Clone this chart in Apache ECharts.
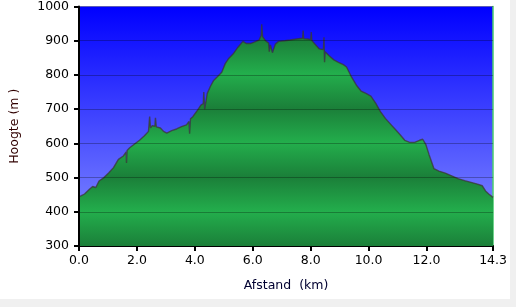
<!DOCTYPE html>
<html><head><meta charset="utf-8">
<script src="https://cdn.jsdelivr.net/npm/echarts@6/dist/echarts.min.js"></script>
<style>html,body{margin:0;padding:0;background:#f0f0f0;}#c{width:510px;height:299px;background:#fff;}</style>
</head><body><div id="c"></div>
<script>
var distanceKm = [0, 0.08, 0.19, 0.36, 0.47, 0.58, 0.69, 0.86, 1.03, 1.19, 1.36, 1.53, 1.63, 1.64, 1.66, 1.75, 1.92, 2.09, 2.26, 2.40, 2.44, 2.47, 2.53, 2.62, 2.64, 2.67, 2.81, 2.92, 3.03, 3.20, 3.37, 3.54, 3.71, 3.80, 3.82, 3.85, 3.93, 4.10, 4.21, 4.29, 4.31, 4.34, 4.43, 4.54, 4.65, 4.77, 4.93, 5.05, 5.16, 5.32, 5.49, 5.66, 5.77, 5.94, 6.11, 6.22, 6.29, 6.31, 6.34, 6.44, 6.55, 6.57, 6.61, 6.66, 6.68, 6.78, 6.89, 7.11, 7.29, 7.51, 7.72, 7.74, 7.76, 7.90, 8.00, 8.02, 8.04, 8.13, 8.30, 8.44, 8.46, 8.48, 8.50, 8.63, 8.80, 8.96, 9.13, 9.24, 9.41, 9.58, 9.74, 9.91, 10.08, 10.25, 10.41, 10.58, 10.75, 10.92, 11.09, 11.25, 11.42, 11.59, 11.76, 11.87, 11.98, 12.09, 12.26, 12.43, 12.65, 12.87, 13.09, 13.32, 13.54, 13.76, 13.93, 14.04, 14.15, 14.30];
var elevationM = [444, 447, 452, 466, 474, 471, 490, 500, 514, 529, 553, 563, 575, 543, 579, 587, 598, 609, 622, 635, 678, 645, 652, 650, 675, 648, 645, 635, 630, 637, 642, 649, 654, 664, 628, 672, 678, 698, 712, 716, 750, 700, 746, 767, 784, 794, 808, 833, 847, 861, 881, 898, 892, 892, 898, 902, 915, 948, 912, 900, 893, 868, 888, 884, 865, 890, 898, 900, 902, 905, 907, 930, 906, 905, 903, 925, 901, 892, 876, 874, 910, 837, 868, 857, 844, 837, 830, 823, 794, 770, 753, 746, 738, 717, 693, 673, 657, 641, 625, 609, 603, 603, 609, 612, 596, 567, 526, 519, 513, 505, 497, 491, 486, 481, 476, 461, 452, 442];
var yTicks = [300, 400, 500, 600, 700, 800, 900, 1000];
var xTickLabels = ['0.0', '2.0', '4.0', '6.0', '8.0', '10.0', '12.0', '14.3'];

var points = distanceKm.map(function (d, i) { return [d, elevationM[i]]; });
var chart = echarts.init(document.getElementById('c'), null, {renderer: 'canvas'});
var light = '#23ae4c', dark = '#1b7f39';
var bandStops = [];
for (var k = 0; k < yTicks.length; k++) {
  bandStops.push({offset: k / (yTicks.length - 1), color: (k % 2 === 0) ? light : dark});
}
var font = {fontFamily: 'DejaVu Sans', fontSize: 12.5, color: '#000'};
chart.setOption({
  animation: false,
  grid: {
    left: 79, right: 4, top: 5, bottom: 53, show: true, borderWidth: 0,
    backgroundColor: new echarts.graphic.LinearGradient(0, 0, 0, 1, [
      {offset: 0, color: '#0000ff'}, {offset: 1, color: '#8a94ff'}])
  },
  xAxis: {
    type: 'value', min: 0, max: 14.3, interval: 2,
    name: 'Afstand  (km)', nameLocation: 'middle', nameGap: 33,
    nameTextStyle: Object.assign({}, font, {color: '#000030'}),
    axisLine: {lineStyle: {color: '#000', width: 2}},
    axisTick: {lineStyle: {color: '#000', width: 2}, length: 5},
    axisLabel: Object.assign({}, font, {margin: 8, showMaxLabel: true,
      formatter: function (v) { return v.toFixed(1); }}),
    splitLine: {show: false}
  },
  yAxis: [{
    type: 'value', min: yTicks[0], max: yTicks[yTicks.length - 1], interval: 100,
    name: 'Hoogte (m )', nameLocation: 'middle', nameGap: 58, nameRotate: 90,
    nameTextStyle: Object.assign({}, font, {color: '#300000'}),
    z: 5,
    axisLine: {show: true, lineStyle: {color: '#000', width: 2}},
    axisTick: {show: true, lineStyle: {color: '#000', width: 2}, length: 5},
    axisLabel: Object.assign({}, font, {margin: 10, formatter: function (v) { return String(v); }}),
    splitLine: {show: true, lineStyle: {color: 'rgba(0,0,0,0.28)', width: 1}}
  }, {
    type: 'value', min: yTicks[0], max: yTicks[yTicks.length - 1], position: 'right',
    axisLine: {show: true, lineStyle: {color: '#4ccf6e', width: 1.5}},
    axisTick: {show: false}, axisLabel: {show: false}, splitLine: {show: false}
  }],
  series: [{
    type: 'line', data: points, symbol: 'none', z: 2,
    lineStyle: {color: 'rgba(60,50,50,0.7)', width: 1.4},
    areaStyle: {opacity: 1, color: new echarts.graphic.LinearGradient(0, 5, 0, 246, bandStops, true)}
  }]
});
</script></body></html>
